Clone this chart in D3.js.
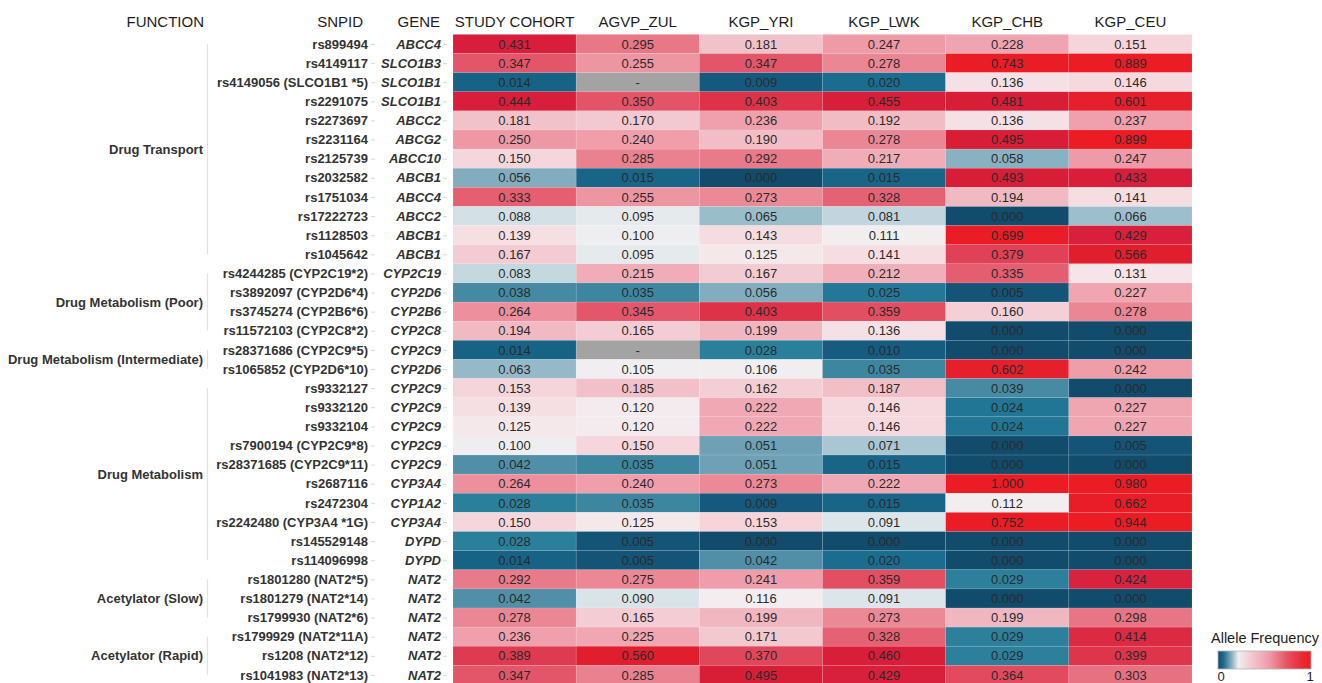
<!DOCTYPE html>
<html>
<head>
<meta charset="utf-8">
<script src="https://cdn.jsdelivr.net/npm/d3@7"></script>
<style>
  html, body { margin: 0; padding: 0; background: #fff; }
  svg { display: block; }
  text { font-family: "Liberation Sans", Arial, Helvetica, sans-serif; }
</style>
</head>
<body>
<svg id="chart" width="1322" height="683"></svg>
<script>
// ---------------- DATA ----------------
const columns = ["STUDY COHORT", "AGVP_ZUL", "KGP_YRI", "KGP_LWK", "KGP_CHB", "KGP_CEU"];

const snpIds = [
  "rs899494", "rs4149117", "rs4149056 (SLCO1B1 *5)", "rs2291075", "rs2273697", "rs2231164",
  "rs2125739", "rs2032582", "rs1751034", "rs17222723", "rs1128503", "rs1045642",
  "rs4244285 (CYP2C19*2)", "rs3892097 (CYP2D6*4)", "rs3745274 (CYP2B6*6)", "rs11572103 (CYP2C8*2)",
  "rs28371686 (CYP2C9*5)", "rs1065852 (CYP2D6*10)",
  "rs9332127", "rs9332120", "rs9332104", "rs7900194 (CYP2C9*8)", "rs28371685 (CYP2C9*11)",
  "rs2687116", "rs2472304", "rs2242480 (CYP3A4 *1G)", "rs145529148", "rs114096998",
  "rs1801280 (NAT2*5)", "rs1801279 (NAT2*14)", "rs1799930 (NAT2*6)",
  "rs1799929 (NAT2*11A)", "rs1208 (NAT2*12)", "rs1041983 (NAT2*13)"
];

const genes = [
  "ABCC4", "SLCO1B3", "SLCO1B1", "SLCO1B1", "ABCC2", "ABCG2",
  "ABCC10", "ABCB1", "ABCC4", "ABCC2", "ABCB1", "ABCB1",
  "CYP2C19", "CYP2D6", "CYP2B6", "CYP2C8",
  "CYP2C9", "CYP2D6",
  "CYP2C9", "CYP2C9", "CYP2C9", "CYP2C9", "CYP2C9",
  "CYP3A4", "CYP1A2", "CYP3A4", "DYPD", "DYPD",
  "NAT2", "NAT2", "NAT2", "NAT2", "NAT2", "NAT2"
];

const functionNames = [
  "Drug Transport", "Drug Metabolism (Poor)", "Drug Metabolism (Intermediate)",
  "Drug Metabolism", "Acetylator (Slow)", "Acetylator (Rapid)"
];
const functionRowCounts = [12, 4, 2, 10, 3, 3];

const studyCohort = [0.431,0.347,0.014,0.444,0.181,0.250,0.150,0.056,0.333,0.088,0.139,0.167,
  0.083,0.038,0.264,0.194,0.014,0.063,0.153,0.139,0.125,0.100,0.042,0.264,0.028,0.150,0.028,0.014,
  0.292,0.042,0.278,0.236,0.389,0.347];
const agvpZul = [0.295,0.255,null,0.350,0.170,0.240,0.285,0.015,0.255,0.095,0.100,0.095,
  0.215,0.035,0.345,0.165,null,0.105,0.185,0.120,0.120,0.150,0.035,0.240,0.035,0.125,0.005,0.005,
  0.275,0.090,0.165,0.225,0.560,0.285];
const kgpYri = [0.181,0.347,0.009,0.403,0.236,0.190,0.292,0.000,0.273,0.065,0.143,0.125,
  0.167,0.056,0.403,0.199,0.028,0.106,0.162,0.222,0.222,0.051,0.051,0.273,0.009,0.153,0.000,0.042,
  0.241,0.116,0.199,0.171,0.370,0.495];
const kgpLwk = [0.247,0.278,0.020,0.455,0.192,0.278,0.217,0.015,0.328,0.081,0.111,0.141,
  0.212,0.025,0.359,0.136,0.010,0.035,0.187,0.146,0.146,0.071,0.015,0.222,0.015,0.091,0.000,0.020,
  0.359,0.091,0.273,0.328,0.460,0.429];
const kgpChb = [0.228,0.743,0.136,0.481,0.136,0.495,0.058,0.493,0.194,0.000,0.699,0.379,
  0.335,0.005,0.160,0.000,0.000,0.602,0.039,0.024,0.024,0.000,0.000,1.000,0.112,0.752,0.000,0.000,
  0.029,0.000,0.199,0.029,0.029,0.364];
const kgpCeu = [0.151,0.889,0.146,0.601,0.237,0.899,0.247,0.433,0.141,0.066,0.429,0.566,
  0.131,0.227,0.278,0.000,0.000,0.242,0.000,0.227,0.227,0.005,0.000,0.980,0.662,0.944,0.000,0.000,
  0.424,0.000,0.298,0.414,0.399,0.303];

const seriesValues = [studyCohort, agvpZul, kgpYri, kgpLwk, kgpChb, kgpCeu];
const legendTicks = ["0", "1"];
const legendTitle = "Allele Frequency";

// ---------------- LAYOUT ----------------
const svg = d3.select("#chart");

const x = d3.scaleBand().domain(columns).range([453, 1192]).padding(0);
const y = d3.scaleBand().domain(d3.range(snpIds.length)).range([34.4, 34.4 + 19.12 * snpIds.length]).padding(0);

const color = d3.scaleLinear()
  .domain([0, 0.01, 0.02, 0.028, 0.04, 0.05, 0.058, 0.07, 0.083, 0.092, 0.1, 0.115, 0.135, 0.15, 0.18,
           0.22, 0.25, 0.28, 0.3, 0.35, 0.4, 0.43, 0.5, 0.56, 0.6, 0.7, 1])
  .range(["#124c6d", "#155c80", "#1a6d8f", "#2a7f9b", "#4a8ba4", "#6a9fb3", "#88b1c1", "#a7c5d1", "#c4d8e0",
          "#dfe7eb", "#eeeef0", "#f3eef0", "#f5e2e6", "#f5d6dc", "#f2c3cb",
          "#f0aab5", "#ee98a5", "#eb8593", "#e87383", "#e35468", "#de3449", "#d81e3b", "#d81d36",
          "#e01e2d", "#e51f2b", "#ea1c25", "#ec1c24"])
  .clamp(true);

// cells
const cells = [];
seriesValues.forEach((arr, ci) => arr.forEach((v, ri) => cells.push({ col: columns[ci], row: ri, v })));

const gCells = svg.append("g");
gCells.selectAll("rect").data(cells).join("rect")
  .attr("x", d => x(d.col))
  .attr("y", d => y(d.row))
  .attr("width", x.bandwidth())
  .attr("height", y.bandwidth())
  .attr("fill", d => d.v == null ? "#a3a3a3" : color(d.v))
  .attr("stroke", "rgba(255,255,255,0.18)")
  .attr("stroke-width", 0.6);

gCells.selectAll("text").data(cells).join("text")
  .attr("x", d => x(d.col) + x.bandwidth() / 2)
  .attr("y", d => y(d.row) + y.bandwidth() / 2)
  .attr("dy", "0.36em")
  .attr("text-anchor", "middle")
  .attr("font-size", 13)
  .attr("fill", "#2a2a2a")
  .text(d => d.v == null ? "-" : d.v.toFixed(3));

// headers
const gHead = svg.append("g").attr("font-size", 15).attr("fill", "#1e1e1e");
gHead.selectAll("text.col").data(columns).join("text")
  .attr("class", "col")
  .attr("x", d => x(d) + x.bandwidth() / 2)
  .attr("y", 26.5)
  .attr("text-anchor", "middle")
  .text(d => d);
gHead.append("text").attr("x", 204).attr("y", 26.5).attr("text-anchor", "end").text("FUNCTION");
gHead.append("text").attr("x", 363).attr("y", 26.5).attr("text-anchor", "end").text("SNPID");
gHead.append("text").attr("x", 440).attr("y", 26.5).attr("text-anchor", "end").text("GENE");

// SNP axis
const yCenter = i => y(i) + y.bandwidth() / 2;
const snpAxis = d3.axisRight(d3.scalePoint().domain(d3.range(snpIds.length)).range([yCenter(0), yCenter(snpIds.length - 1)]))
  .tickSize(4).tickPadding(0).tickFormat("");
const gSnpAxis = svg.append("g").attr("transform", "translate(371,0)").call(snpAxis);
gSnpAxis.select(".domain").remove();
gSnpAxis.selectAll(".tick line").attr("stroke", "#d8d8d8");

svg.append("g").selectAll("text").data(snpIds).join("text")
  .attr("x", 368)
  .attr("y", (d, i) => yCenter(i))
  .attr("dy", "0.36em")
  .attr("text-anchor", "end")
  .attr("font-size", 13)
  .attr("font-weight", "bold")
  .attr("fill", "#333")
  .text(d => d);

// gene axis
const gGeneAxis = svg.append("g").attr("transform", "translate(443,0)").call(snpAxis);
gGeneAxis.select(".domain").remove();
gGeneAxis.selectAll(".tick line").attr("stroke", "#d8d8d8");

svg.append("g").selectAll("text").data(genes).join("text")
  .attr("x", 441)
  .attr("y", (d, i) => yCenter(i))
  .attr("dy", "0.36em")
  .attr("text-anchor", "end")
  .attr("font-size", 13)
  .attr("font-weight", "bold")
  .attr("font-style", "italic")
  .attr("fill", "#333")
  .text(d => d);

// function groups
let start = 0;
const groups = functionNames.map((name, i) => {
  const g = { name, start, end: start + functionRowCounts[i] - 1 };
  start += functionRowCounts[i];
  return g;
});
const gFunc = svg.append("g");
gFunc.selectAll("line").data(groups).join("line")
  .attr("x1", 207.5).attr("x2", 207.5)
  .attr("y1", d => yCenter(d.start))
  .attr("y2", d => yCenter(d.end))
  .attr("stroke", "#e2e2e2")
  .attr("stroke-width", 1.2);
gFunc.selectAll("text").data(groups).join("text")
  .attr("x", 203)
  .attr("y", d => (y(d.start) + y(d.end) + y.bandwidth()) / 2)
  .attr("dy", "0.36em")
  .attr("text-anchor", "end")
  .attr("font-size", 13)
  .attr("font-weight", "bold")
  .attr("fill", "#333")
  .text(d => d.name);

// legend
const defs = svg.append("defs");
const grad = defs.append("linearGradient").attr("id", "lg").attr("x1", "0%").attr("x2", "100%");
const legendStops = [
  [0, "#124c6d"], [0.06, "#1d6b8d"], [0.14, "#7fa9bb"], [0.22, "#f1eef0"], [0.35, "#f3cbd2"],
  [0.55, "#ee9aa7"], [0.75, "#e8515f"], [0.9, "#ea2a33"], [1, "#ec1c24"]
];
grad.selectAll("stop").data(legendStops).join("stop")
  .attr("offset", d => d[0] * 100 + "%")
  .attr("stop-color", d => d[1]);

const lx = d3.scaleLinear().domain([0, 1]).range([1218, 1311]);
svg.append("rect")
  .attr("x", lx(0)).attr("y", 651)
  .attr("width", lx(1) - lx(0)).attr("height", 18)
  .attr("fill", "url(#lg)")
  .attr("stroke", "#b5b5b5").attr("stroke-width", 0.8);
svg.append("text")
  .attr("x", 1211).attr("y", 643)
  .attr("font-size", 14.5).attr("fill", "#222")
  .text(legendTitle);
svg.append("g").selectAll("text").data(legendTicks).join("text")
  .attr("x", (d, i) => lx(+d) + (i === 0 ? 3 : -1))
  .attr("y", 681)
  .attr("text-anchor", "middle")
  .attr("font-size", 13).attr("fill", "#222")
  .text(d => d);
</script>
</body>
</html>
